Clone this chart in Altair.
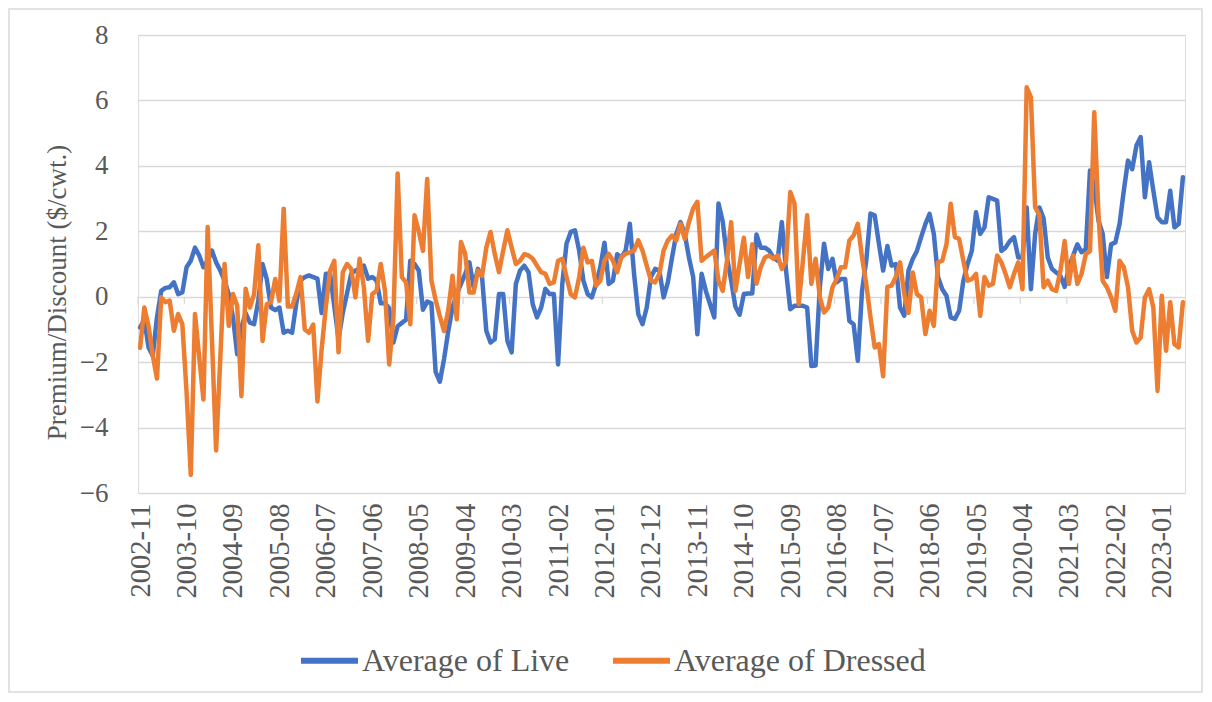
import altair as alt
import pandas as pd

# ---- data ----
months = pd.date_range("2002-11-01", periods=248, freq="MS").strftime("%Y-%m").tolist()

tick_labels = ["2002-11", "2003-10", "2004-09", "2005-08", "2006-07", "2007-06",
               "2008-05", "2009-04", "2010-03", "2011-02", "2012-01", "2012-12",
               "2013-11", "2014-10", "2015-09", "2016-08", "2017-07", "2018-06",
               "2019-05", "2020-04", "2021-03", "2022-02", "2023-01"]

y_ticks = [-6, -4, -2, 0, 2, 4, 6, 8]

series_names = ["Average of Live", "Average of Dressed"]

live = [
    -0.94, -0.7, -1.55, -1.8, -0.63, 0.18, 0.27, 0.29, 0.44, 0.08,
    0.13, 0.9, 1.1, 1.5, 1.26, 0.9, 1.1, 1.41, 1.05, 0.8,
    0.49, 0.08, -0.63, -1.76, -0.94, -0.5, -0.79, -0.84, -0.12, 1.0,
    0.54, -0.33, -0.41, -0.33, -1.1, -1.04, -1.1, -0.2, 0.5, 0.6,
    0.65, 0.6, 0.55, -0.5, 0.7, 0.7, -0.3, -1.3, -0.5, 0.1,
    0.7, 0.8, 0.85, 0.95, 0.55, 0.6, 0.5, -0.2, -0.2, -0.35,
    -1.4, -0.9, -0.8, -0.7, 1.1, 1.0, 0.8, -0.4, -0.15, -0.2,
    -2.3, -2.6, -1.9, -1.04, -0.33, 0.08, 0.39, 0.7, 1.05, 0.29,
    0.85, 0.6, -1.04, -1.4, -1.3, 0.08, 0.08, -1.35, -1.7, 0.39,
    0.8, 0.95, 0.75, -0.23, -0.63, -0.33, 0.24, 0.08, 0.08, -2.07,
    0.39, 1.62, 1.98, 2.03, 1.41, 0.49, 0.08, -0.02, 0.39, 0.9,
    1.65, 0.39, 0.49, 1.3, 1.2, 1.41, 2.23, 0.7, -0.53, -0.84,
    -0.33, 0.6, 0.85, 0.8, -0.02, 0.44, 1.2, 1.92, 2.28, 1.92,
    1.2, 0.6, -1.15, 0.7, 0.18, -0.23, -0.63, 2.85, 2.3, 1.2,
    0.49, -0.3, -0.55, 0.08, 0.1, 0.1, 1.9, 1.5, 1.5, 1.41,
    1.2, 1.1, 2.28, 0.8, -0.38, -0.28, -0.28, -0.28, -0.33, -2.12,
    -2.1, 0.29, 1.62, 0.85, 1.16, 0.44, 0.54, 0.54, -0.74, -0.84,
    -1.96, 0.18, 1.1, 2.54, 2.49, 1.62, 0.8, 1.55, 0.95, 1.0,
    -0.33, -0.58, 0.8, 1.15, 1.4, 1.82, 2.22, 2.53, 1.92, 0.6,
    0.23, 0.03, -0.63, -0.68, -0.43, 0.49, 1.0, 1.4, 2.58, 1.92,
    2.12, 3.04, 2.99, 2.94, 1.4, 1.5, 1.7, 1.82, 1.2, 1.2,
    2.73, 0.23, 1.92, 2.73, 2.4, 1.2, 0.85, 0.74, 0.64, 0.3,
    0.9, 1.26, 1.6, 1.36, 1.46, 3.86, 3.4, 2.33, 1.92, 0.6,
    1.6, 1.66, 2.22, 3.24, 4.16, 3.9, 4.62, 4.88, 3.04, 4.11,
    3.24, 2.43, 2.28, 2.28, 3.24, 2.12, 2.22, 3.65,
]

dressed = [
    -1.56, -0.33, -0.9, -1.8, -2.5, -0.02, -0.17, -0.12, -1.04, -0.53,
    -0.84, -2.9, -5.45, -0.53, -1.86, -3.14, 2.13, -1.25, -4.7, -1.86,
    1.0, -0.89, 0.08, -0.28, -3.04, 0.24, -0.33, 0.08, 1.57, -1.35,
    -0.23, -0.17, 0.54, -0.12, 2.69, -0.3, -0.3, 0.1, 0.6, -1.0,
    -1.1, -0.85, -3.2, -1.6, -0.3, 0.8, 1.1, -1.7, 0.75, 1.0,
    0.85, -0.02, 1.16, 0.29, -1.35, 0.08, 0.18, 1.0, 0.18, -2.07,
    -0.63, 3.77, 0.6, 0.44, -0.84, 2.49, 2.0, 1.4, 3.6, 0.5,
    -0.1, -0.6, -1.05, -0.4, 0.64, -0.69, 1.67, 1.31, 0.13, 0.13,
    0.8, 0.64, 1.5, 1.98, 1.31, 0.75, 1.41, 2.03, 1.5, 1.0,
    1.1, 1.3, 1.26, 1.16, 0.95, 0.75, 0.7, 0.39, 0.44, 1.1,
    1.16, 0.6, 0.08, -0.02, 0.6, 1.5, 1.05, 1.1, 0.34, 0.49,
    1.1, 1.31, 1.1, 0.75, 1.21, 1.31, 1.36, 1.41, 1.72, 1.41,
    0.95, 0.49, 0.44, 0.7, 1.41, 1.72, 1.87, 1.72, 2.23, 1.77,
    2.28, 2.7, 2.9, 1.1, 1.21, 1.31, 1.41, 0.49, 0.18, 1.1,
    2.28, 0.18, 1.0, 1.8, 0.6, 1.6, 0.4, 0.9, 1.2, 1.26,
    1.16, 1.26, 0.85, 1.1, 3.2, 2.85, -0.23, 1.1, 2.49, 0.39,
    1.16, -0.02, -0.48, -0.33, 0.29, 0.54, 0.9, 0.9, 1.72, 1.87,
    2.23, 1.2, 0.39, -0.63, -1.55, -1.45, -2.43, 0.3, 0.34, 0.6,
    1.05, 0.08, -0.5, 0.74, 0.08, -0.02, -1.14, -0.43, -0.89, 1.05,
    1.1, 1.6, 2.84, 1.82, 1.77, 1.1, 0.49, 0.54, 0.7, -0.58,
    0.6, 0.34, 0.39, 1.26, 1.05, 0.7, 0.29, 0.7, 1.05, 0.23,
    6.4, 6.1, 2.73, 2.5, 0.29, 0.49, 0.23, 0.18, 0.8, 1.7,
    0.39, 1.26, 0.39, 0.7, 1.3, 1.4, 5.64, 2.53, 0.49, 0.29,
    -0.02, -0.43, 1.1, 0.9, 0.29, -1.04, -1.4, -1.25, -0.02, 0.23,
    -0.33, -2.88, 0.03, -1.65, -0.17, -1.45, -1.55, -0.17,
]

# ---- tables built from the lists ----
live_df = pd.DataFrame({"month": months, "value": live, "series": series_names[0]})
dressed_df = pd.DataFrame({"month": months, "value": dressed, "series": series_names[1]})
tick_df = pd.DataFrame({"month": tick_labels, "y0": 0.0, "y1": -0.22})

# ---- styling ----
FONT = "Liberation Serif"
GREY = "#595959"
GRID = "#D9D9D9"
W, H = 1047, 458
STEP = W / len(months)

x_scale = alt.Scale(type="point", padding=0.5, domain=months)
y_scale = alt.Scale(domain=[-6, 8], nice=False, zero=False)
color_scale = alt.Scale(domain=series_names, range=["#4472C4", "#ED7D31"])

x_axis = alt.Axis(values=tick_labels, labelAngle=-90, labelPadding=10, domain=False,
                  ticks=False, grid=False, title=None, labelFont=FONT,
                  labelFontSize=28.5, labelColor=GREY)
y_axis = alt.Axis(values=y_ticks, grid=True, gridColor=GRID, gridWidth=1.3,
                  domain=False, ticks=False, labelPadding=30, labelFont=FONT,
                  labelFontSize=27, labelColor=GREY,
                  title="Premium/Discount ($/cwt.)", titleFont=FONT,
                  titleFontSize=27, titleFontWeight="normal", titleColor=GREY,
                  titleX=-81, titleY=257, titleAlign="center", titleBaseline="middle",
                  titleAngle=270)

legend = alt.Legend(orient="none", legendX=160, legendY=594, direction="horizontal",
                    title=None, symbolType="stroke", symbolStrokeWidth=6,
                    symbolSize=3249, labelFont=FONT, labelFontSize=32,
                    labelColor=GREY, labelOffset=1, columnPadding=31, labelLimit=0)

def line_layer(df):
    return alt.Chart(df).mark_line(strokeWidth=4.5, strokeJoin="round", strokeCap="round").encode(
        x=alt.X("month:O", scale=x_scale, axis=x_axis, sort=months),
        y=alt.Y("value:Q", scale=y_scale, axis=y_axis),
        color=alt.Color("series:N", scale=color_scale, legend=legend),
    )

ticks = alt.Chart(tick_df).mark_rule(color=GRID, strokeWidth=1.3, xOffset=-STEP / 2).encode(
    x=alt.X("month:O", scale=x_scale, axis=x_axis, sort=months),
    y=alt.Y("y0:Q", scale=y_scale, axis=y_axis),
    y2="y1:Q",
)

border = alt.Chart(pd.DataFrame({"k": [0]})).mark_rect(
    fillOpacity=0, stroke=GRID, strokeWidth=1.5
).encode(
    x=alt.value(-129), x2=alt.value(W + 17),
    y=alt.value(-26), y2=alt.value(H + 199),
)

chart = alt.layer(border, ticks, line_layer(live_df), line_layer(dressed_df)).properties(
    width=W, height=H,
    padding={"left": 130, "top": 27, "right": 19, "bottom": 201},
    autosize=alt.AutoSizeParams(type="none"),
).configure_view(stroke=None).configure(background="white")

chart.save("out.html", embed_options={"renderer": "svg", "actions": False})
